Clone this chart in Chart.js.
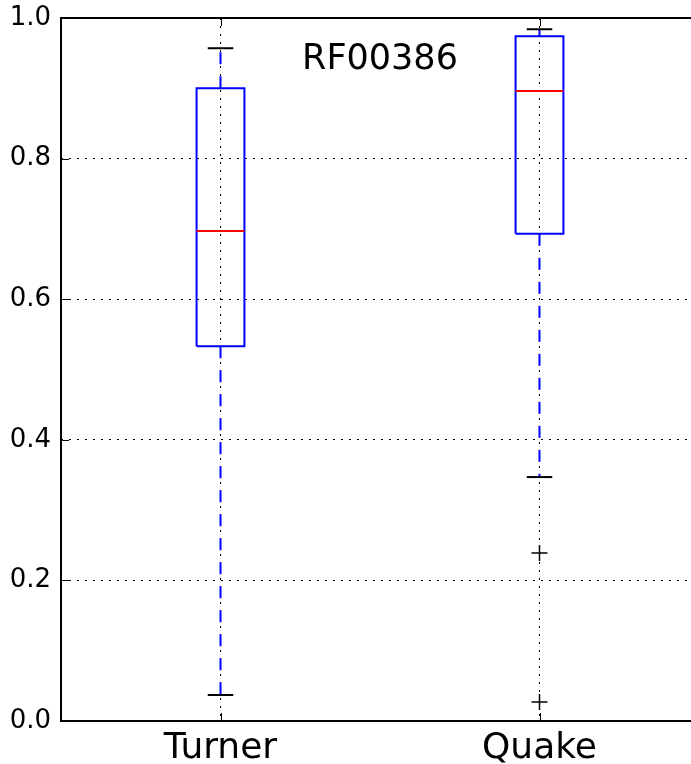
<!DOCTYPE html>
<html>
<head>
<meta charset="utf-8">
<script src="https://cdn.jsdelivr.net/npm/chart.js@4/dist/chart.umd.min.js"></script>
<style>
  html, body { margin: 0; padding: 0; background: #fff; overflow: hidden; }
  #wrap { width: 700px; height: 764px; }
</style>
</head>
<body>
<div id="wrap"><canvas id="box" width="700" height="764" style="width:700px;height:764px"></canvas></div>
<script>
const categories = ['Turner', 'Quake'];
const lowerWhisker = [0.037, 0.347];
const q1 = [0.533, 0.693];
const median = [0.697, 0.896];
const q3 = [0.900, 0.974];
const upperWhisker = [0.957, 0.984];
const outliers = [[], [0.239, 0.027]];
const yTicks = [0, 0.2, 0.4, 0.6, 0.8, 1.0];
const titleText = 'RF00386';

const FONT = 'DejaVu Sans';
const halfBox = 0.075;
const halfCap = 0.04;

function seg(x1, y1, x2, y2) {
  return [{ x: x1, y: y1 }, { x: x2, y: y2 }];
}

function lineSet(data, color, dash) {
  return {
    data: data,
    showLine: true,
    borderColor: color,
    borderWidth: 2,
    borderDash: dash || [],
    pointRadius: 0,
    fill: false,
  };
}

const datasets = [];
categories.forEach((c, i) => {
  const x = i + 1;
  // outliers
  datasets.push({
    data: outliers[i].map(v => ({ x: x, y: v })),
    pointStyle: 'cross',
    pointRadius: 8,
    borderColor: '#000',
    borderWidth: 1.5,
    showLine: false,
  });
  datasets.push(lineSet(seg(x - halfBox, median[i], x + halfBox, median[i]), '#ff0000'));
  datasets.push(lineSet(seg(x - halfCap, upperWhisker[i], x + halfCap, upperWhisker[i]), '#000'));
  datasets.push(lineSet(seg(x - halfCap, lowerWhisker[i], x + halfCap, lowerWhisker[i]), '#000'));
  datasets.push(lineSet([
    { x: x - halfBox, y: q1[i] }, { x: x + halfBox, y: q1[i] },
    { x: x + halfBox, y: q3[i] }, { x: x - halfBox, y: q3[i] },
    { x: x - halfBox, y: q1[i] },
  ], '#0000ff'));
  datasets.push(lineSet(seg(x, q3[i], x, upperWhisker[i]), '#0000ff', [12, 12]));
  datasets.push(lineSet(seg(x, q1[i], x, lowerWhisker[i]), '#0000ff', [12, 12]));
});

// spines (left, top, bottom), inward ticks and the in-axes title
const frame = {
  id: 'frame',
  afterDraw(chart) {
    const { ctx, chartArea: a, scales } = chart;
    ctx.save();
    ctx.strokeStyle = '#000';
    ctx.lineWidth = 1;
    scales.y.ticks.forEach(t => {
      const py = Math.round(scales.y.getPixelForValue(t.value)) + 0.5;
      ctx.beginPath();
      ctx.moveTo(a.left, py); ctx.lineTo(a.left + 8, py);
      ctx.stroke();
    });
    scales.x.ticks.forEach(t => {
      const px = Math.round(scales.x.getPixelForValue(t.value)) + 0.5;
      ctx.beginPath();
      ctx.moveTo(px, a.bottom); ctx.lineTo(px, a.bottom - 8);
      ctx.moveTo(px, a.top); ctx.lineTo(px, a.top + 8);
      ctx.stroke();
    });
    ctx.lineWidth = 2;
    ctx.beginPath();
    ctx.moveTo(a.right + 2, a.top);
    ctx.lineTo(a.left, a.top);
    ctx.lineTo(a.left, a.bottom);
    ctx.lineTo(a.right + 2, a.bottom);
    ctx.stroke();
    ctx.fillStyle = '#000';
    ctx.font = '35px "' + FONT + '"';
    ctx.textAlign = 'center';
    ctx.textBaseline = 'alphabetic';
    ctx.fillText(titleText, (a.left + a.right) / 2, a.top + 51);
    ctx.restore();
  }
};

new Chart(document.getElementById('box'), {
  type: 'scatter',
  data: { datasets: datasets },
  options: {
    responsive: false,
    animation: false,
    devicePixelRatio: 1,
    layout: { autoPadding: false, padding: { top: 18, right: 1, left: 0, bottom: 0 } },
    plugins: { legend: { display: false }, tooltip: { enabled: false } },
    scales: {
      x: {
        type: 'linear',
        min: 0.5,
        max: 2.5,
        afterBuildTicks: s => { s.ticks = categories.map((c, i) => ({ value: i + 1 })); },
        afterFit: s => { s.height = 43; s.paddingLeft = 0; s.paddingRight = 0; },
        grid: { color: '#000', lineWidth: 1, drawTicks: false },
        border: { display: false, dash: [2, 6] },
        ticks: {
          color: '#000',
          font: { family: FONT, size: 36 },
          padding: 6,
          maxRotation: 0,
          callback: v => categories[v - 1],
        },
      },
      y: {
        min: 0,
        max: 1,
        afterBuildTicks: s => { s.ticks = yTicks.map(v => ({ value: v })); },
        afterFit: s => { s.width = 61; s.paddingTop = 0; s.paddingBottom = 0; },
        grid: { color: '#000', lineWidth: 1, drawTicks: false },
        border: { display: false, dash: [2, 6] },
        ticks: {
          color: '#000',
          font: { family: FONT, size: 26 },
          padding: 10,
          callback: v => v.toFixed(1),
        },
      },
    },
  },
  plugins: [frame],
});
</script>
</body>
</html>
